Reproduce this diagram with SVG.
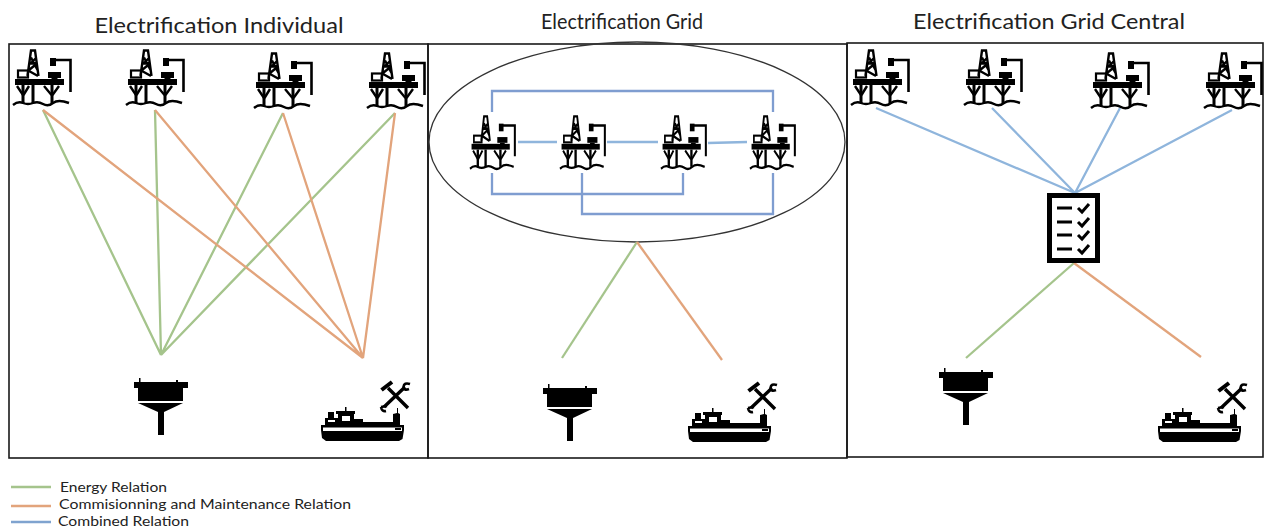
<svg xmlns="http://www.w3.org/2000/svg" width="1266" height="529" viewBox="0 0 1266 529">
<style>
.t{font-family:Lato,"Liberation Sans",sans-serif;fill:#222}
.title{font-size:22px;text-anchor:middle}
.leg{font-size:14px}
.box{fill:none;stroke:#1a1a1a;stroke-width:1.6}
.g{stroke:#a5c48c;stroke-width:2.300;fill:none}
.o{stroke:#e2a47c;stroke-width:2.300;fill:none}
.b{stroke:#8fb5dc;stroke-width:2.300;fill:none}
.b2{stroke:#7f9dd0;stroke-width:2.300;fill:none}
</style>
<defs>
<symbol id="rig" overflow="visible">
<g fill="#000" stroke="none">
<rect x="2" y="30" width="49" height="6"/>
<rect x="35" y="23" width="13" height="6"/><rect x="38.500" y="29" width="6" height="3"/>
<rect x="37" y="9" width="6" height="8"/>
<rect x="8.500" y="36" width="3" height="18"/><rect x="18.500" y="36" width="3" height="18"/><rect x="37.500" y="36" width="3" height="18"/>
</g>
<g fill="none" stroke="#000">
<path d="M14.500 27L18 1.500H22L25.500 27M16 21L24 14.500M17 15L23 9M18 8.500L24.500 21M16 22L25 27M17 14.500L24 14" stroke-width="2.400"/>
<rect x="5" y="21.500" width="10" height="7" stroke-width="2.200"/>
<path d="M41 11H57.500V43" stroke-width="2.600"/>
<path d="M4 37L10 46M16 37L10.500 46M31 37L38.500 46M46 37L39.500 46" stroke-width="2.400"/>
<path d="M0 56Q5 52 10 54T20 54T30 55T40 54T56 54" stroke-width="2.400"/>
</g>
</symbol>
<symbol id="buoy" overflow="visible">
<path fill="#000" d="M0 4H5V0H6.500V4H42V2H44V4H54V10H49V23H4V10H0ZM4 25H49L30 34V57H24V34Z"/>
</symbol>
<symbol id="ship" overflow="visible">
<path fill="#000" d="M0 44H83V49L81.500 58L78 60H5L1 57L0 49ZM2 46.500V50H81V46.500Z" fill-rule="evenodd"/>
<path fill="#000" d="M17 44V33H15V30H24V26H25.500V30H34V33H33V38H42V41H72V33L76 32V27H77V32L79 33V44Z"/>
<path fill="#000" d="M4 44V37H7V31H13V37H17V44Z"/>
<rect x="21" y="35" width="8" height="5" fill="#fff"/>
<rect x="7" y="39" width="7" height="2" fill="#fff"/>
<rect x="74" y="47" width="6" height="2" fill="#000"/>
<path fill="none" stroke="#000" stroke-width="3.400" d="M67 7L87 27M84 6L63 26"/>
<path fill="none" stroke="#000" stroke-width="4" d="M60.500 9L71 1"/>
<path fill="none" stroke="#000" stroke-width="2.600" d="M89 3Q83 1 82.500 6Q83 10 88 8M60 26Q61 31 65 30M66 25L60 26"/>
</symbol>
</defs>

<text class="t title" x="219" y="33" textLength="249" lengthAdjust="spacingAndGlyphs">Electrification Individual</text>
<text class="t title" x="622" y="29" textLength="162" lengthAdjust="spacingAndGlyphs">Electrification Grid</text>
<text class="t title" x="1049" y="29" textLength="272" lengthAdjust="spacingAndGlyphs">Electrification Grid Central</text>

<g id="panels">
<rect class="box" x="9" y="44" width="419" height="414"/>
<rect class="box" x="428" y="44" width="419" height="414"/>
<rect class="box" x="847" y="43" width="416" height="414"/>
<ellipse cx="637" cy="142" rx="208" ry="100" fill="none" stroke="#333" stroke-width="1.300"/>
</g>

<g id="connectors">
<path class="g" d="M43 110L161 355M155 110L161 355M283 113L161 355M395 113L161 355"/>
<path class="o" d="M43 110L363 358M155 110L363 358M283 113L363 358M395 113L363 358"/>
<path class="b2" d="M492 112V91H773V112M492 173V194H683V173M582 173V214H773V173"/>
<path class="b" d="M518 142H557M607 142H658M708 143L747 142"/>
<path class="g" d="M637 242L562 358"/>
<path class="o" d="M637 242L722 360"/>
<path class="b" d="M876 108L1075 193M992 108L1075 193M1120 108L1075 193M1232 110L1075 193"/>
<path class="g" d="M1074 263L966 358"/>
<path class="o" d="M1074 263L1201 357"/>
</g>

<g id="rig1"><use href="#rig" x="13" y="49"/></g>
<g id="rig2"><use href="#rig" x="126" y="49"/></g>
<g id="rig3"><use href="#rig" x="254" y="52"/></g>
<g id="rig4"><use href="#rig" x="367" y="52"/></g>
<g id="grid-rig1"><use href="#rig" transform="translate(470 115) scale(.78 .96)"/></g>
<g id="grid-rig2"><use href="#rig" transform="translate(560 115) scale(.78 .96)"/></g>
<g id="grid-rig3"><use href="#rig" transform="translate(661 115) scale(.78 .96)"/></g>
<g id="grid-rig4"><use href="#rig" transform="translate(750 115) scale(.78 .96)"/></g>
<g id="central-rig1"><use href="#rig" x="851" y="49"/></g>
<g id="central-rig2"><use href="#rig" x="964" y="49"/></g>
<g id="central-rig3"><use href="#rig" x="1091" y="52"/></g>
<g id="central-rig4"><use href="#rig" x="1204" y="52"/></g>

<g id="buoy1"><use href="#buoy" x="134" y="378"/></g>
<g id="buoy2"><use href="#buoy" x="543" y="384"/></g>
<g id="buoy3"><use href="#buoy" x="939" y="368"/></g>
<g id="ship1"><use href="#ship" x="321" y="381"/></g>
<g id="ship2"><use href="#ship" x="688" y="382"/></g>
<g id="ship3"><use href="#ship" x="1158" y="382"/></g>

<g id="checklist">
<rect x="1049.500" y="195.500" width="48" height="65" fill="#fff" stroke="#000" stroke-width="5"/>
<g fill="none" stroke="#000" stroke-width="3">
<path d="M1057 208H1072M1057 222H1072M1057 235H1072M1057 249H1072"/>
<path d="M1078 208L1082 212L1089 204M1078 222L1082 226L1089 218M1078 235L1082 239L1089 231M1078 249L1082 253L1089 245"/>
</g>
</g>

<g id="legend">
<path class="g" d="M11 487H51"/>
<path class="o" d="M11 506H51"/>
<path class="b2" d="M11 522H51" style="stroke:#7fa3cf"/>
<text class="t leg" x="60" y="492" textLength="107" lengthAdjust="spacingAndGlyphs">Energy Relation</text>
<text class="t leg" x="59" y="509" textLength="292" lengthAdjust="spacingAndGlyphs">Commisionning and Maintenance Relation</text>
<text class="t leg" x="58" y="526" textLength="131" lengthAdjust="spacingAndGlyphs">Combined Relation</text>
</g>
</svg>
